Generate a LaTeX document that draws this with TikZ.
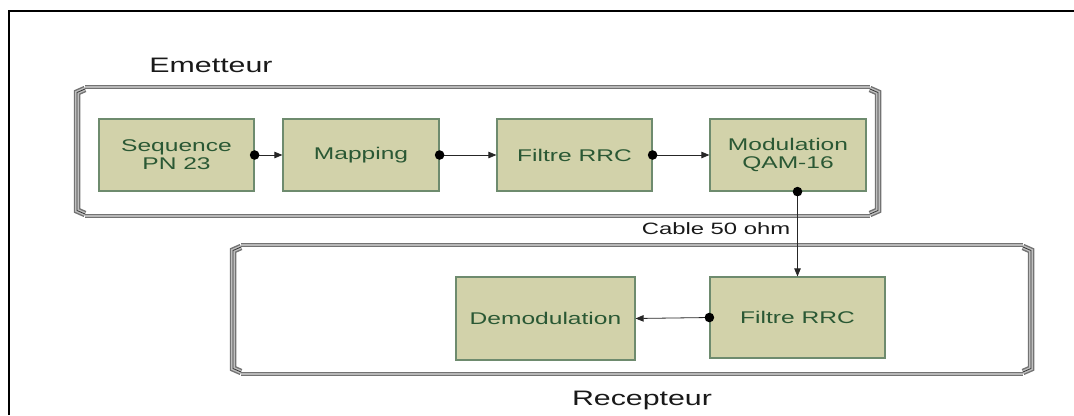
\documentclass[tikz,border=0pt]{standalone}
\usepackage{fontspec}
\usepackage{graphicx}
\setmainfont{Liberation Sans}
\usetikzlibrary{arrows.meta}
\definecolor{boxfill}{HTML}{D2D2AA}
\definecolor{boxline}{HTML}{6E8B6E}
\definecolor{boxtext}{HTML}{2A5834}
\newcommand{\wt}[1]{\scalebox{1.45}[1]{#1}}
\tikzset{
  blk/.style={rectangle, draw=boxline, line width=1.2bp, fill=boxfill, inner sep=0pt,
    text=boxtext, align=center, font=\fontsize{17}{18}\selectfont},
  conn/.style={draw=black!85, line width=0.8bp, -{Triangle[length=8bp,width=6.5bp]}},
  dot/.style={fill=black},
  hline/.style={draw=black!55, line width=3.6bp},
  hlinein/.style={draw=black!28, line width=1.4bp},
  vband/.style={draw=black!55, line width=6.5bp, line join=miter},
  vbandin/.style={draw=black!25, line width=3.6bp, line join=miter},
  vcore/.style={draw=black!80, line width=0.8bp, line join=miter},
  heading/.style={font=\fontsize{21}{22}\selectfont, text=black!90, inner sep=0pt},
  lbl/.style={font=\fontsize{16.5}{18}\selectfont, text=black!90, inner sep=0pt}
}
\begin{document}
\begin{tikzpicture}[x=1bp,y=-1bp]
\useasboundingbox (0,0) rectangle (1074,415);
% outer frame
\draw[line width=2bp] (9,415) -- (9,11) -- (1074,11);

% Emetteur container
\draw[hline] (85,87) -- (870,87);
\draw[hlinein] (85,87) -- (870,87);
\draw[hline] (85,216) -- (870,216);
\draw[hlinein] (85,216) -- (870,216);
\foreach \p in {vband,vbandin,vcore}{
  \draw[\p] (85,89) -- (77,92.5) -- (77,210.5) -- (85,214);
  \draw[\p] (870,89) -- (878,92.5) -- (878,210.5) -- (870,214);
}
% Recepteur container
\draw[hline] (241,245) -- (1023,245);
\draw[hlinein] (241,245) -- (1023,245);
\draw[hline] (241,374) -- (1023,374);
\draw[hlinein] (241,374) -- (1023,374);
\foreach \p in {vband,vbandin,vcore}{
  \draw[\p] (241,247) -- (233,250.5) -- (233,368.5) -- (241,372);
  \draw[\p] (1023,247) -- (1031,250.5) -- (1031,368.5) -- (1023,372);
}

% labels
\node[heading] (em) at (211,65) {\wt{Emetteur}};
\node[heading] (rc) at (642,400) {\wt{Recepteur}};
\node[lbl] (cab) at (716,229) {\wt{Cable 50 ohm}};

% blocks
\node[blk, minimum width=155bp, minimum height=72bp] (seq) at (176.5,155) {\wt{Sequence}\\\wt{PN 23}};
\node[blk, minimum width=156bp, minimum height=72bp] (map) at (361,155) {\wt{Mapping}};
\node[blk, minimum width=155bp, minimum height=72bp] (rrc1) at (574.5,155) {\wt{Filtre RRC}};
\node[blk, minimum width=156bp, minimum height=72bp] (mod) at (788,155) {\wt{Modulation}\\\wt{QAM-16}};
\node[blk, minimum width=175bp, minimum height=81bp] (rrc2) at (797.5,317.5) {\wt{Filtre RRC}};
\node[blk, minimum width=179bp, minimum height=83bp] (dem) at (545.5,318.5) {\wt{Demodulation}};

% connectors
\draw[conn] (seq.east) -- (map.west);
\draw[conn] (map.east) -- (rrc1.west);
\draw[conn] (rrc1.east) -- (mod.west);
\coordinate (mout) at (mod.south -| rrc2.north);
\draw[conn] (mout) -- (rrc2.north);
\draw[conn] (rrc2.west) -- (dem.east);
\fill[dot] (seq.east) circle (4.8bp);
\fill[dot] (map.east) circle (4.8bp);
\fill[dot] (rrc1.east) circle (4.8bp);
\fill[dot] (mout) circle (4.8bp);
\fill[dot] (rrc2.west) circle (4.8bp);
\end{tikzpicture}
\end{document}
